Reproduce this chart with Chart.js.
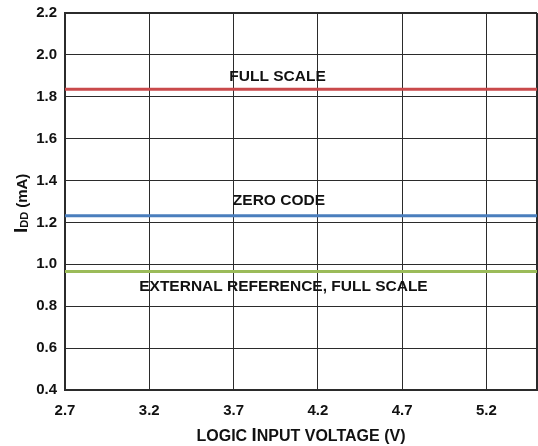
<!doctype html>
<html lang="en">
  <head>
    <meta charset="UTF-8" />
    <title>IDD vs Logic Input Voltage</title>
    <script src="https://cdn.jsdelivr.net/npm/chart.js"></script>
    <style>
      body {
        margin: 0;
        background: #ffffff;
      }
      .chart-box {
        width: 538px;
        height: 446px;
      }
    </style>
  </head>
  <body>
    <div class="chart-box">
      <canvas id="iddChart"></canvas>
    </div>

    <script>
      // data
      const xRange = [2.7, 5.5];
      const xTicks = [2.7, 3.2, 3.7, 4.2, 4.7, 5.2, 5.5];
      const yTicks = [0.4, 0.6, 0.8, 1.0, 1.2, 1.4, 1.6, 1.8, 2.0, 2.2];

      const seriesNames = ["FULL SCALE", "ZERO CODE", "EXTERNAL REFERENCE, FULL SCALE"];
      const seriesLevels = [1.836, 1.232, 0.966];
      const seriesColors = ["#c9494b", "#4a7ebd", "#9bbb59"];

      // label anchor (x centre, y value of text baseline)
      const labelX = [3.961, 3.969, 3.996];
      const labelY = [1.877, 1.281, 0.875];

      const FONT = "'Liberation Sans', Arial, sans-serif";

      const datasets = seriesLevels.map((lvl, i) => ({
        label: seriesNames[i],
        data: [
          { x: xRange[0], y: lvl },
          { x: xRange[1], y: lvl }
        ],
        borderColor: seriesColors[i],
        borderWidth: 3,
        pointRadius: 0,
        fill: false
      }));

      // draws pieces of text in a row, each with its own size and baseline shift
      function drawRuns(ctx, runs, x, y) {
        runs.forEach((r) => {
          ctx.font = "bold " + r.size + "px " + FONT;
          ctx.fillText(r.text, x, y + (r.dy || 0));
          x += ctx.measureText(r.text).width + (r.gap || 0);
        });
      }

      function runsWidth(ctx, runs) {
        let w = 0;
        runs.forEach((r) => {
          ctx.font = "bold " + r.size + "px " + FONT;
          w += ctx.measureText(r.text).width + (r.gap || 0);
        });
        return w;
      }

      // text labels on lines + axis titles
      const textPlugin = {
        id: "textPlugin",
        afterDraw(chart) {
          const ctx = chart.ctx;
          const xs = chart.scales.x;
          const ys = chart.scales.y;
          const area = chart.chartArea;
          ctx.save();
          ctx.fillStyle = "#111";
          ctx.font = "bold 15.5px " + FONT;
          ctx.textAlign = "center";
          ctx.textBaseline = "alphabetic";
          seriesNames.forEach((name, i) => {
            ctx.fillText(name, xs.getPixelForValue(labelX[i]), ys.getPixelForValue(labelY[i]));
          });

          ctx.textAlign = "left";
          // x title with the bigger I
          const xRuns = [
            { text: "LOGIC ", size: 16 },
            { text: "I", size: 18.5 },
            { text: "NPUT VOLTAGE (V)", size: 16 }
          ];
          const cx = (area.left + area.right) / 2;
          drawRuns(ctx, xRuns, cx - runsWidth(ctx, xRuns) / 2, 441);

          // y title: I_DD (mA)
          ctx.translate(27, 233);
          ctx.rotate(-Math.PI / 2);
          drawRuns(ctx, [
            { text: "I", size: 19 },
            { text: "DD", size: 11, dy: 1, gap: 4 },
            { text: "(mA)", size: 15 }
          ], 0, 0);
          ctx.restore();
        }
      };

      const edge = (v, lo, hi) => Math.abs(v - lo) < 1e-6 || Math.abs(v - hi) < 1e-6;

      const ctx = document.getElementById("iddChart").getContext("2d");
      const iddChart = new Chart(ctx, {
        type: "line",
        data: { datasets: datasets },
        options: {
          responsive: true,
          maintainAspectRatio: false,
          animation: false,
          layout: { padding: { top: 13, right: 1, left: 0, bottom: 0 } },
          plugins: {
            legend: { display: false },
            tooltip: { enabled: false }
          },
          scales: {
            x: {
              type: "linear",
              min: xRange[0],
              max: xRange[1],
              afterBuildTicks: (axis) => {
                axis.ticks = xTicks.map((v) => ({ value: v }));
              },
              afterFit: (axis) => {
                axis.height = 56;
                axis.paddingRight = 0;
                axis.paddingLeft = 0;
              },
              grid: {
                color: "#2b2b2b",
                lineWidth: (c) => (c.tick && edge(c.tick.value, xRange[0], xRange[1]) ? 2 : 1),
                drawTicks: false
              },
              border: { color: "#2b2b2b", width: 2 },
              ticks: {
                color: "#111",
                padding: 12,
                maxRotation: 0,
                autoSkip: false,
                font: { family: FONT, size: 15, weight: "bold" },
                callback: (v) => (v === xRange[1] ? "" : v.toFixed(1))
              }
            },
            y: {
              min: yTicks[0],
              max: yTicks[yTicks.length - 1],
              afterBuildTicks: (axis) => {
                axis.ticks = yTicks.map((v) => ({ value: v }));
              },
              afterFit: (axis) => {
                axis.width = 65;
                axis.paddingTop = 0;
                axis.paddingBottom = 0;
              },
              grid: {
                color: "#2b2b2b",
                lineWidth: (c) => (c.tick && edge(c.tick.value, yTicks[0], yTicks[yTicks.length - 1]) ? 2 : 1),
                drawTicks: false
              },
              border: { color: "#2b2b2b", width: 2 },
              ticks: {
                color: "#111",
                padding: 8,
                autoSkip: false,
                font: { family: FONT, size: 15, weight: "bold" },
                callback: (v) => Number(v).toFixed(1)
              }
            }
          }
        },
        plugins: [textPlugin]
      });
    </script>
  </body>
</html>
